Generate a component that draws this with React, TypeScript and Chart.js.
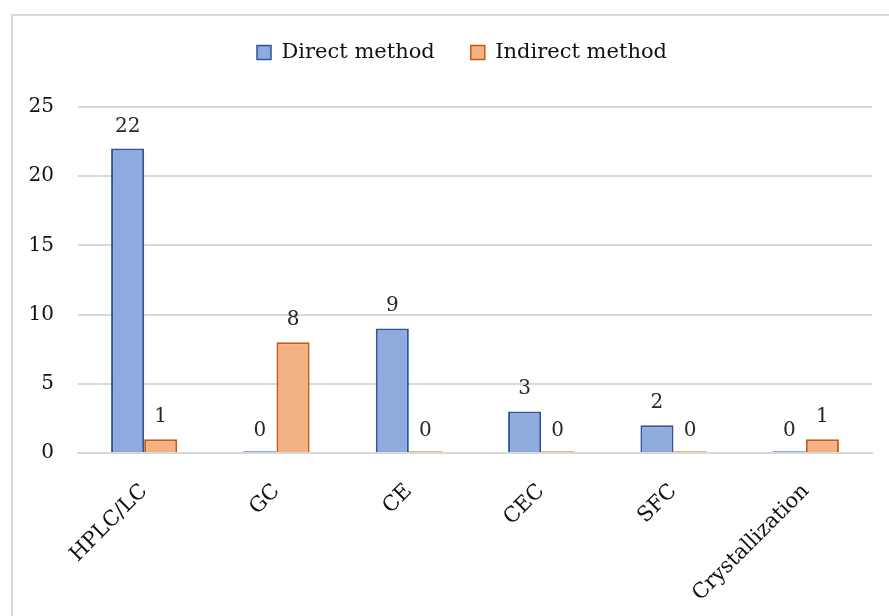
import React, { useEffect, useRef } from "react";
import { Chart, registerables } from "chart.js";

Chart.register(...registerables);

const categories = ["HPLC/LC", "GC", "CE", "CEC", "SFC", "Crystallization"];
const directMethod = [22, 0, 9, 3, 2, 0];
const indirectMethod = [1, 8, 0, 0, 0, 1];
const seriesNames = ["Direct method", "Indirect method"];
const yTicks = [0, 5, 10, 15, 20, 25];

const FONT = "'DejaVu Serif', 'Liberation Serif', serif";

// Writes each bar's value just above its top.
const valueLabels = {
  id: "valueLabels",
  afterDatasetsDraw(chart: any) {
    const ctx = chart.ctx;
    ctx.save();
    ctx.font = `20px ${FONT}`;
    ctx.fillStyle = "#262626";
    ctx.textAlign = "center";
    ctx.textBaseline = "alphabetic";
    chart.data.datasets.forEach((ds: any, di: number) => {
      const meta = chart.getDatasetMeta(di);
      meta.data.forEach((bar: any, i: number) => {
        const v = ds.data[i];
        const top = chart.scales.y.getPixelForValue(v);
        ctx.fillText(String(v), bar.x, top - 17);
      });
    });
    ctx.restore();
  },
};

// Leaves a fixed band between the legend and the plot, and centres the
// legend over the plot area rather than the whole canvas.
const legendPlacement = {
  id: "legendPlacement",
  beforeInit(chart: any) {
    const legend = chart.legend;
    if (!legend) return;
    const fit = legend.fit;
    legend.fit = function () {
      fit.call(this);
      this.height = 101;
    };
  },
  beforeDraw(chart: any) {
    const legend = chart.legend;
    if (!legend) return;
    legend.left = 52;
  },
};

const zeroAware = (w: number) => (c: any) => (c.raw === 0 ? 0 : w);

export default function App() {
  const ref = useRef<HTMLCanvasElement | null>(null);

  useEffect(() => {
    if (!ref.current) return;
    const chart = new Chart(ref.current, {
      type: "bar",
      data: {
        labels: categories,
        datasets: [
          {
            label: seriesNames[0],
            data: directMethod,
            backgroundColor: "#8FAADC",
            borderColor: "#2F5597",
            borderWidth: zeroAware(2),
            minBarLength: 2,
          },
          {
            label: seriesNames[1],
            data: indirectMethod,
            backgroundColor: "#F4B183",
            borderColor: "#C55A11",
            borderWidth: zeroAware(2),
            minBarLength: 2,
          },
        ],
      },
      options: {
        responsive: false,
        animation: false,
        layout: { padding: { left: 0, right: 17, top: 6, bottom: 0 } },
        datasets: {
          bar: { categoryPercentage: 0.5, barPercentage: 1.0 },
        },
        plugins: {
          legend: {
            position: "top",
            labels: {
              font: { family: FONT, size: 21 },
              color: "#111",
              boxWidth: 14,
              boxHeight: 14,
              padding: 36,
              generateLabels(ch: any) {
                return ch.data.datasets.map((ds: any, i: number) => ({
                  text: ds.label,
                  fillStyle: ds.backgroundColor,
                  strokeStyle: ds.borderColor,
                  lineWidth: 1.5,
                  hidden: false,
                  datasetIndex: i,
                  fontColor: "#111",
                }));
              },
            },
          },
          tooltip: { enabled: false },
        },
        scales: {
          x: {
            grid: { display: false, drawTicks: false },
            border: { color: "#D9D9D9", width: 2 },
            ticks: {
              font: { family: FONT, size: 21 },
              color: "#111",
              maxRotation: 45,
              minRotation: 45,
              padding: 26,
            },
            afterFit(s: any) {
              s.height = 163;
            },
          },
          y: {
            min: 0,
            max: 25,
            afterBuildTicks(s: any) {
              s.ticks = yTicks.map((v) => ({ value: v }));
            },
            grid: { color: "#D9D9D9", lineWidth: 2, drawTicks: false },
            border: { display: false },
            ticks: {
              font: { family: FONT, size: 20 },
              color: "#111",
              padding: 24,
            },
            afterFit(s: any) {
              s.width = 78;
            },
          },
        },
      },
      plugins: [valueLabels, legendPlacement],
    });
    return () => chart.destroy();
  }, []);

  return (
    <div style={{ position: "fixed", left: 0, top: 0, width: 889, height: 616, background: "#fff" }}>
      <div
        style={{
          position: "absolute",
          left: 11,
          top: 14,
          width: 878,
          height: 602,
          borderLeft: "2px solid #D9D9D9",
          borderTop: "2px solid #D9D9D9",
        }}
      />
      <canvas ref={ref} width={889} height={616} style={{ position: "absolute", left: 0, top: 0 }} />
    </div>
  );
}
